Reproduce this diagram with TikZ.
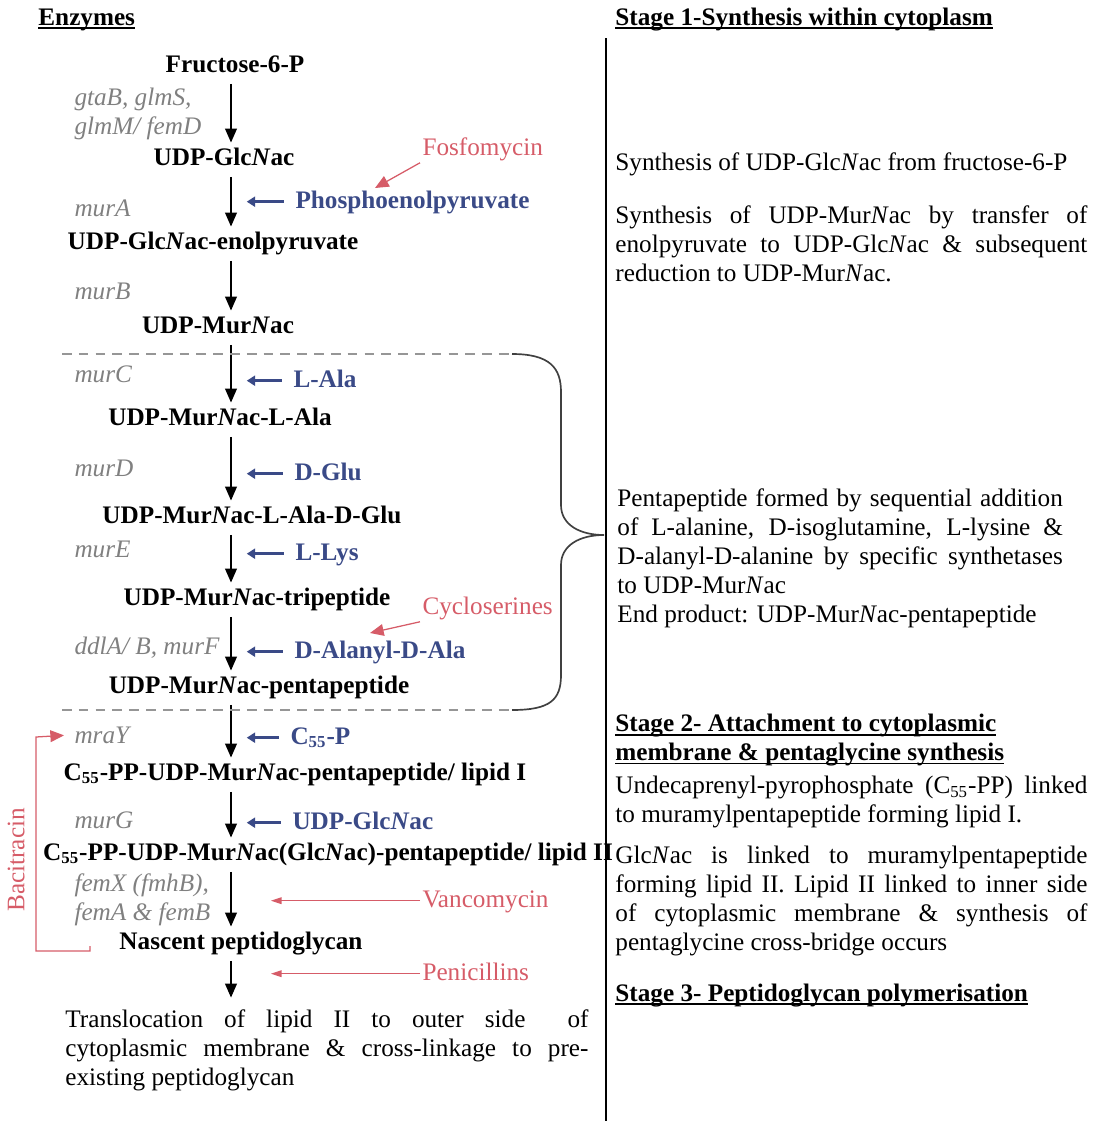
\documentclass[tikz,border=0pt]{standalone}
\usepackage{fontspec}
\setmainfont{Liberation Serif}
\usetikzlibrary{arrows.meta}

\definecolor{enzgray}{RGB}{128,128,128}
\definecolor{subblue}{RGB}{58,74,135}
\definecolor{drugred}{RGB}{214,92,104}
\definecolor{cutgray}{RGB}{150,150,150}

\hyphenpenalty=10000
\exhyphenpenalty=10000
\newcommand\Nac{\textit{N}ac}
\newsavebox\hdbox
\newcommand\hdul[1]{\sbox\hdbox{#1}\rlap{\rule[-1.8pt]{\wd\hdbox}{0.8pt}}\usebox\hdbox}

\begin{document}
\begin{tikzpicture}[x=0.476pt, y=-0.476pt, node font=\fontsize{12}{13.8}\selectfont,
    metab/.style={font=\bfseries, anchor=base, inner sep=1pt, text height=8.5pt, text depth=2.5pt},
    enz/.style={font=\itshape, text=enzgray, anchor=base west, inner sep=1pt},
    subs/.style={font=\bfseries, text=subblue, anchor=base west, inner sep=1pt, text height=8.5pt, text depth=2.5pt},
    drug/.style={text=drugred, anchor=base west, inner sep=1pt, text height=8.5pt, text depth=2.5pt},
    stagehead/.style={font=\bfseries, anchor=base west, inner sep=0pt},
    note/.style={anchor=north west, inner sep=0pt, align=justify, text width=#1},
    flow/.style={-{Triangle[width=5.6pt,length=6.6pt]}, line width=0.7pt, shorten <=2pt, shorten >=1pt},
    feed/.style={subblue, -{Triangle[width=4.8pt,length=4pt]}, line width=1.4pt, shorten <=4.5pt, shorten >=7.5pt},
    block/.style={drugred, -{Triangle[width=3.2pt,length=5pt]}, line width=0.5pt},
    bigblock/.style={drugred, -{Triangle[width=5.6pt,length=6.5pt]}, line width=0.6pt},
    cut/.style={cutgray, line width=0.6pt, dash pattern=on 4.6pt off 3.4pt},
    bracepath/.style={black!75, line width=0.8pt}]
\useasboundingbox (0,0) rectangle (1093,1121);
\coordinate (spine) at (231,0);
\coordinate (redstop) at (271,0);
\coordinate (fosfohit) at (375,188);
\coordinate (cyclohit) at (370,633);

\node[stagehead] (enzhead) at (38,25) {\hdul{Enzymes}};
\node[stagehead] (stage1) at (615,25) {\hdul{Stage 1-Synthesis within cytoplasm}};
\draw[line width=1pt] (606,38) -- (606,1121);

\node[metab] (f6p) at (235,72) {Fructose-6-P};
\node[metab] (glc) at (224,165) {UDP-Glc\Nac};
\node[metab] (enol) at (213,249) {UDP-Glc\Nac-enolpyruvate};
\node[metab] (mur) at (218,333) {UDP-Mur\Nac};
\node[metab] (murala) at (220,425) {UDP-Mur\Nac-L-Ala};
\node[metab] (murglu) at (252,523) {UDP-Mur\Nac-L-Ala-D-Glu};
\node[metab] (murtri) at (257,605) {UDP-Mur\Nac-tripeptide};
\node[metab] (murpenta) at (259,693) {UDP-Mur\Nac-pentapeptide};
\node[metab] (lipidI) at (295,780) {C\textsubscript{55}-PP-UDP-Mur\Nac-pentapeptide/ lipid I};
\node[metab] (lipidII) at (328,860) {C\textsubscript{55}-PP-UDP-Mur\Nac(Glc\Nac)-pentapeptide/ lipid II};
\node[metab] (nascent) at (241,949) {Nascent peptidoglycan};
\node[note=249pt] (transloc) at (65,1007) {\strut Translocation of lipid II to outer side \ of\linebreak cytoplasmic membrane \& cross-linkage to pre-\linebreak{}existing peptidoglycan};

\node[enz, anchor=north west, align=left] (glms) at (72,83) {\strut gtaB, glmS,\\glmM/ femD};
\node[enz] (mura) at (72,216) {murA};
\node[enz] (murb) at (72,299) {murB};
\node[enz] (murc) at (72,382) {murC};
\node[enz] (murd) at (72,476) {murD};
\node[enz] (mure) at (72,557) {murE};
\node[enz] (murf) at (72,654) {ddlA/ B, murF};
\node[enz] (mray) at (72,743) {mraY};
\node[enz] (murg) at (72,828) {murG};
\node[enz, anchor=north west, align=left] (femx) at (72,869) {\strut femX (fmhB),\\femA \& femB};

\node[subs] (pep) at (293,208) {Phosphoenolpyruvate};
\node[subs] (lala) at (291,387) {L-Ala};
\node[subs] (dglu) at (292,480) {D-Glu};
\node[subs] (llys) at (293,560) {L-Lys};
\node[subs] (dalad) at (292,658) {D-Alanyl-D-Ala};
\node[subs] (c55p) at (288,744) {C\textsubscript{55}-P};
\node[subs] (udpglc) at (290,829) {UDP-Glc\Nac};

\node[drug] (fosfo) at (420,155) {Fosfomycin};
\node[drug] (cyclo) at (420,614) {Cycloserines};
\node[drug] (vanco) at (420,907) {Vancomycin};
\node[drug] (penic) at (420,980) {Penicillins};
\node[drug, anchor=center, rotate=90] (baci) at (18,860) {Bacitracin};

\foreach \a/\b in {f6p/glc, glc/enol, enol/mur, mur/murala, murala/murglu, murglu/murtri, murtri/murpenta, murpenta/lipidI, lipidI/lipidII, lipidII/nascent}
  \draw[flow] (\a.south -| spine) -- (\b.north -| spine);
\draw[flow, shorten >=4.5pt] (nascent.south -| spine) -- (transloc.north -| spine);

\foreach \s in {pep, lala, dglu, llys, dalad, c55p, udpglc}
  \draw[feed] (\s.west) -- (\s.west -| spine);

\draw[bigblock] (fosfo.south west) -- (fosfohit);
\draw[bigblock] (cyclo.south west) -- (cyclohit);
\draw[block] (vanco.west) -- (vanco.west -| redstop);
\draw[block] (penic.west) -- (penic.west -| redstop);
\draw[bigblock, shorten >=3.8pt] (90,946) -- (90,951) -| (36,737) -- (mray.west);

\draw[cut] (62,354) -- (512,354);
\draw[cut] (62,710) -- (512,710);
\draw[bracepath] (512,354) .. controls (550,354) and (561,368) .. (561,392) -- (561,505)
  .. controls (561,525) and (580,535) .. (604,535)
  .. controls (580,535) and (561,545) .. (561,565) -- (561,675)
  .. controls (561,700) and (550,710) .. (512,710);

\node[note=224.7pt] (synglc) at (615,150) {\strut Synthesis of UDP-Glc\Nac{} from fructose-6-P};
\node[note=224.7pt] (synmur) at (615,203) {\strut Synthesis of UDP-Mur\Nac{} by transfer of\linebreak enolpyruvate to UDP-Glc\Nac{} \& subsequent\linebreak reduction to UDP-Mur\Nac.};
\node[note=212pt] (penta) at (617,486) {\strut Pentapeptide formed by sequential addition\linebreak of L-alanine, D-isoglutamine, L-lysine \&\linebreak D-alanyl-D-alanine by specific synthetases\linebreak to UDP-Mur\Nac\\End product: UDP-Mur\Nac-pentapeptide};
\node[stagehead, anchor=north west, align=left] (stage2) at (615,711) {\strut\hdul{Stage 2- Attachment to cytoplasmic}\\\hdul{membrane \& pentaglycine synthesis}};
\node[note=224.7pt] (undec) at (615,773) {\strut Undecaprenyl-pyrophosphate (C\textsubscript{55}-PP) linked\linebreak to muramylpentapeptide forming lipid I.};
\node[note=224.7pt] (glclink) at (615,843) {\strut Glc\Nac{} is linked to muramylpentapeptide\linebreak forming lipid II. Lipid II linked to inner side\linebreak of cytoplasmic membrane \& synthesis of\linebreak pentaglycine cross-bridge occurs};
\node[stagehead] (stage3) at (615,1001) {\hdul{Stage 3- Peptidoglycan polymerisation}};
\end{tikzpicture}
\end{document}
